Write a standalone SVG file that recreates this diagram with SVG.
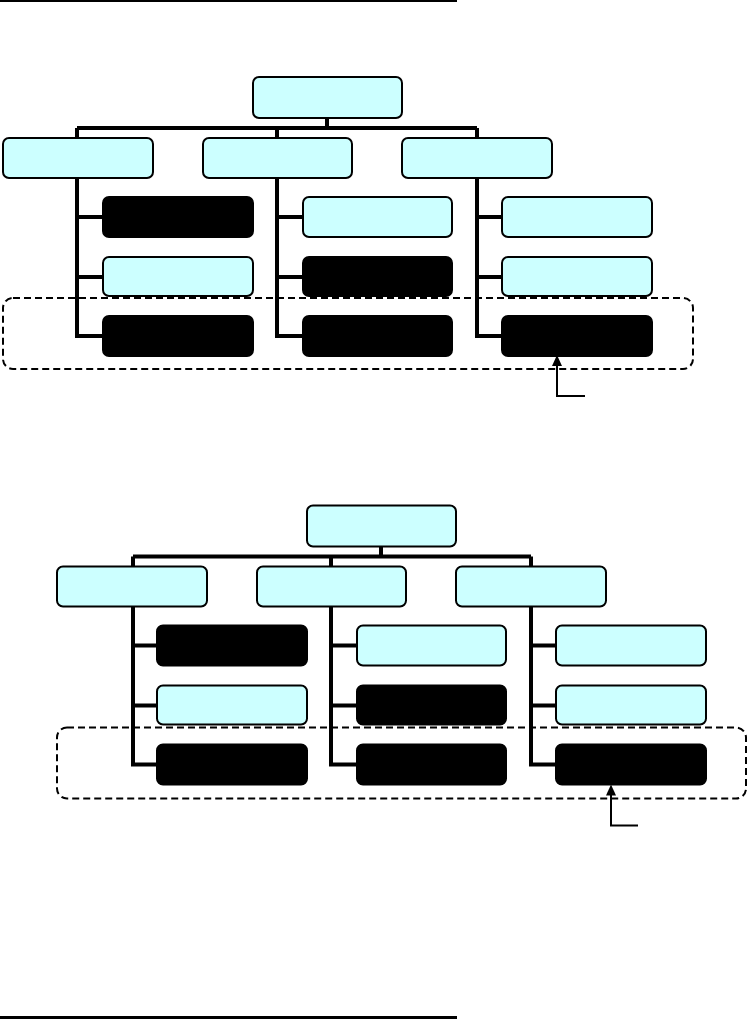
<svg xmlns="http://www.w3.org/2000/svg" width="747" height="1020" viewBox="0 0 747 1020">
<style>
.lt{fill:#CCFFFF;stroke:#000;stroke-width:2}
.dk{fill:#000;stroke:#000;stroke-width:2}
.ln{fill:none;stroke:#000;stroke-width:4}
.ds{fill:none;stroke:#000;stroke-width:2;stroke-dasharray:7,4}
.ar{fill:none;stroke:#000;stroke-width:2}
.ah{fill:#000}
</style>
<rect x="0" y="0" width="457" height="2" fill="#000"/>
<rect x="0" y="1016" width="457" height="3" fill="#000"/>
<g id="tree1">
<g id="connectors1">
<path class="ln" d="M327,118 V128 M77,128 H477 M77,128 V336 H103 M77,217 H103 M77,277 H103 M277,128 V336 H303 M277,217 H303 M277,277 H303 M477,128 V336 H503 M477,217 H503 M477,277 H503"/>
<rect class="ds" x="3" y="298" width="690" height="71" rx="10"/>
<path class="ar" d="M585,396 H557 V364"/>
<polygon class="ah" points="557,355 552,366 562,366"/>
</g>
<g id="t1-root"><rect class="lt" x="253" y="77" width="149" height="41" rx="6"/></g>
<g id="t1-a"><rect class="lt" x="3" y="138" width="150" height="40" rx="6"/></g>
<g id="t1-b"><rect class="lt" x="203" y="138" width="149" height="40" rx="6"/></g>
<g id="t1-c"><rect class="lt" x="402" y="138" width="150" height="40" rx="6"/></g>
<g id="t1-a1"><rect class="dk" x="103" y="197" width="150" height="40" rx="6"/></g>
<g id="t1-a2"><rect class="lt" x="103" y="257" width="150" height="39" rx="6"/></g>
<g id="t1-a3"><rect class="dk" x="103" y="316" width="150" height="40" rx="6"/></g>
<g id="t1-b1"><rect class="lt" x="303" y="197" width="149" height="40" rx="6"/></g>
<g id="t1-b2"><rect class="dk" x="303" y="257" width="149" height="39" rx="6"/></g>
<g id="t1-b3"><rect class="dk" x="303" y="316" width="149" height="40" rx="6"/></g>
<g id="t1-c1"><rect class="lt" x="502" y="197" width="150" height="40" rx="6"/></g>
<g id="t1-c2"><rect class="lt" x="502" y="257" width="150" height="39" rx="6"/></g>
<g id="t1-c3"><rect class="dk" x="502" y="316" width="150" height="40" rx="6"/></g>
</g>
<g id="tree2" transform="translate(54,428.5)">
<g id="connectors2">
<path class="ln" d="M327,118 V128 M79,128 H477 M79,128 V336 H103 M79,217 H103 M79,277 H103 M277,128 V336 H303 M277,217 H303 M277,277 H303 M477,128 V336 H503 M477,217 H503 M477,277 H503"/>
<rect class="ds" x="3" y="299" width="689" height="71" rx="10"/>
<path class="ar" d="M584,397 H557 V365"/>
<polygon class="ah" points="557,356 552,367 562,367"/>
</g>
<g id="t2-root"><rect class="lt" x="253" y="77" width="149" height="41" rx="6"/></g>
<g id="t2-a"><rect class="lt" x="3" y="138" width="150" height="40" rx="6"/></g>
<g id="t2-b"><rect class="lt" x="203" y="138" width="149" height="40" rx="6"/></g>
<g id="t2-c"><rect class="lt" x="402" y="138" width="150" height="40" rx="6"/></g>
<g id="t2-a1"><rect class="dk" x="103" y="197" width="150" height="40" rx="6"/></g>
<g id="t2-a2"><rect class="lt" x="103" y="257" width="150" height="39" rx="6"/></g>
<g id="t2-a3"><rect class="dk" x="103" y="316" width="150" height="40" rx="6"/></g>
<g id="t2-b1"><rect class="lt" x="303" y="197" width="149" height="40" rx="6"/></g>
<g id="t2-b2"><rect class="dk" x="303" y="257" width="149" height="39" rx="6"/></g>
<g id="t2-b3"><rect class="dk" x="303" y="316" width="149" height="40" rx="6"/></g>
<g id="t2-c1"><rect class="lt" x="502" y="197" width="150" height="40" rx="6"/></g>
<g id="t2-c2"><rect class="lt" x="502" y="257" width="150" height="39" rx="6"/></g>
<g id="t2-c3"><rect class="dk" x="502" y="316" width="150" height="40" rx="6"/></g>
</g>
</svg>
